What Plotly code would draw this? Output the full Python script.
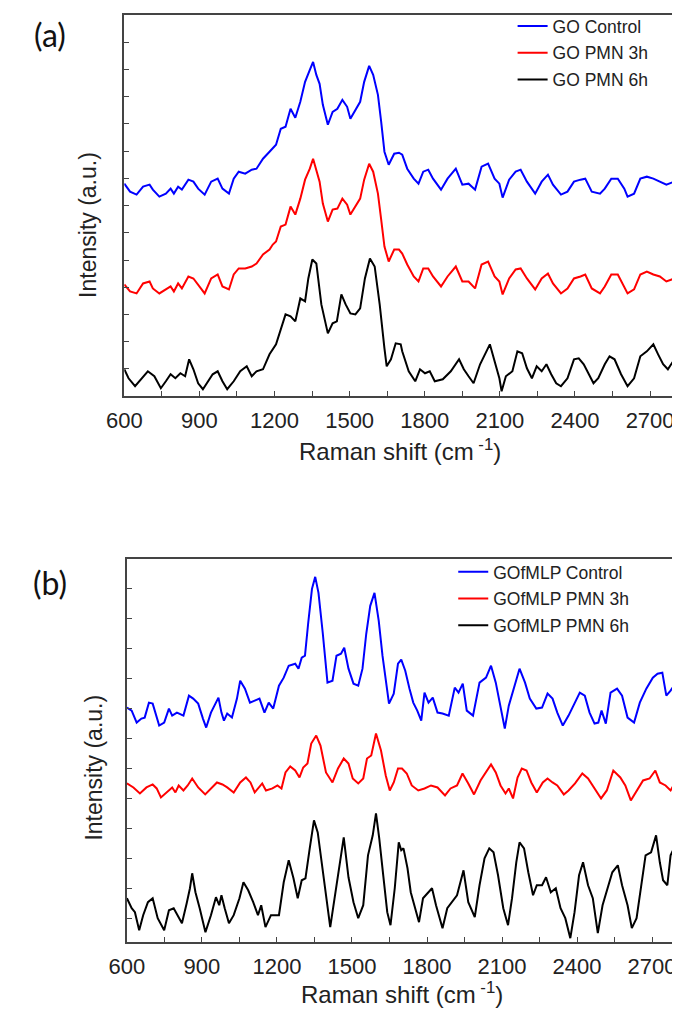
import plotly.graph_objects as go

# page is drawn with an 8px body margin, so the figure is 8px smaller on each axis
OFF = 8
W, H = 680 - OFF, 1012 - OFF

# ---------------- Panel (a) data (arbitrary intensity units) ----------------
go_control_x = [600, 623, 649, 675, 701, 714, 740, 766, 785, 798, 815, 830, 856, 876, 895, 921, 947, 973, 992,
                1018, 1037, 1057, 1083, 1109, 1128, 1154, 1180, 1193, 1206, 1225, 1244, 1264, 1283, 1303, 1322,
                1341, 1354, 1367, 1380, 1393, 1413, 1432, 1451, 1471, 1490, 1503, 1523, 1542, 1558, 1578, 1594,
                1613, 1626, 1639, 1656, 1678, 1697, 1710, 1730, 1756, 1775, 1794, 1814, 1833, 1865, 1891, 1924,
                1950, 1975, 2001, 2027, 2053, 2079, 2098, 2111, 2137, 2163, 2183, 2208, 2241, 2267, 2292, 2312,
                2344, 2370, 2396, 2422, 2441, 2467, 2500, 2519, 2545, 2571, 2597, 2610, 2636, 2661, 2687, 2713,
                2739, 2765, 2797]
go_control_y = [213, 205, 202, 210, 212, 207, 200, 203, 208, 203, 210, 207, 217, 215, 208, 202, 215, 218, 208,
                203, 218, 225, 223, 227, 228, 238, 245, 248, 252, 268, 270, 288, 279, 295, 315,
                327, 335, 322, 313, 292, 272, 285, 288, 297, 290, 278, 287, 295, 315, 331, 322,
                302, 275, 245, 232, 243, 244, 242, 228, 218, 213, 225, 227, 218, 207, 218, 228,
                212, 213, 207, 230, 233, 218, 213, 199, 217, 225, 227, 215, 203, 215, 222, 212,
                202, 205, 215, 217, 218, 205, 203, 208, 218, 218, 208, 200, 203, 218, 220, 218,
                215, 212, 215]

go_pmn3_x = [600, 623, 649, 675, 701, 714, 740, 766, 785, 798, 815, 830, 856, 876, 895, 921, 947, 973, 992,
             1018, 1037, 1057, 1083, 1109, 1128, 1154, 1180, 1193, 1206, 1225, 1244, 1264, 1283, 1303, 1322,
             1341, 1354, 1367, 1380, 1393, 1413, 1432, 1451, 1471, 1490, 1503, 1523, 1542, 1558, 1578, 1594,
             1613, 1626, 1639, 1656, 1678, 1697, 1710, 1730, 1756, 1775, 1794, 1814, 1833, 1865, 1891, 1924,
             1950, 1975, 2001, 2027, 2053, 2079, 2098, 2111, 2137, 2163, 2183, 2208, 2241, 2267, 2292, 2312,
             2344, 2370, 2396, 2422, 2441, 2467, 2500, 2519, 2545, 2571, 2597, 2610, 2636, 2661, 2687, 2713,
             2739, 2765, 2797]
go_pmn3_y = [112, 105, 103, 113, 115, 108, 103, 107, 110, 105, 113, 108, 120, 118, 112, 103, 118, 122, 110,
             107, 122, 128, 128, 130, 133, 142, 147, 152, 155, 170, 172, 190, 182, 198, 217,
             228, 238, 225, 215, 193, 175, 187, 188, 198, 192, 182, 190, 198, 217, 233, 225,
             203, 177, 150, 135, 147, 147, 143, 132, 120, 115, 128, 128, 120, 110, 120, 130,
             115, 115, 108, 132, 135, 120, 115, 102, 118, 127, 128, 118, 107, 118, 123, 113,
             103, 108, 118, 120, 122, 108, 103, 110, 122, 122, 110, 103, 107, 122, 125, 122,
             120, 115, 118]

go_pmn6_x = [600, 617, 643, 669, 694, 720, 746, 766, 785, 804, 824, 843, 859, 876, 895, 914, 934, 953, 973,
             992, 1011, 1037, 1063, 1089, 1109, 1128, 1154, 1180, 1206, 1225, 1244, 1264, 1283, 1303, 1322,
             1335, 1351, 1367, 1387, 1413, 1432, 1449, 1467, 1484, 1503, 1523, 1542, 1561, 1581, 1600, 1620,
             1639, 1648, 1665, 1684, 1704, 1710, 1736, 1762, 1781, 1801, 1820, 1840, 1872, 1904, 1937, 1956,
             1975, 1995, 2021, 2040, 2060, 2079, 2098, 2107, 2124, 2150, 2170, 2189, 2208, 2228, 2247, 2267,
             2286, 2305, 2325, 2344, 2370, 2396, 2415, 2435, 2454, 2474, 2493, 2519, 2538, 2558, 2584, 2610,
             2636, 2661, 2687, 2713, 2732, 2752, 2771, 2797]
go_pmn6_y = [27, 18, 10, 18, 25, 20, 8, 15, 22, 18, 23, 20, 37, 27, 13, 7, 15, 22, 25,
             15, 7, 15, 25, 30, 20, 25, 27, 42, 52, 68, 82, 80, 75, 98, 95,
             118, 137, 133, 92, 63, 73, 75, 102, 92, 83, 82, 88, 118, 138, 130, 92,
             48, 30, 37, 53, 52, 45, 25, 15, 27, 23, 25, 15, 17, 25, 37, 27,
             20, 13, 32, 42, 52, 35, 18, 5, 20, 25, 45, 43, 28, 18, 30, 25,
             32, 22, 13, 10, 18, 37, 38, 32, 22, 13, 18, 32, 40, 37, 22, 10,
             18, 40, 45, 52, 42, 32, 27, 37]

# ---------------- Panel (b) data (arbitrary intensity units) ----------------
gofmlp_control_x = [600, 619, 639, 658, 671, 688, 703, 716, 729, 749, 768, 781, 800, 826, 848, 865, 885, 904, 917,
                    936, 956, 966, 978, 988, 1001, 1020, 1040, 1053, 1072, 1092, 1111, 1130, 1150, 1167, 1185,
                    1208, 1227, 1247, 1273, 1286, 1299, 1312, 1325, 1340, 1353, 1366, 1383, 1402, 1422, 1438,
                    1456, 1469, 1486, 1506, 1525, 1542, 1557, 1573, 1590, 1607, 1622, 1638, 1648, 1667, 1684,
                    1697, 1713, 1730, 1745, 1761, 1777, 1790, 1806, 1823, 1842, 1862, 1887, 1911, 1926, 1943,
                    1959, 1984, 2010, 2036, 2056, 2075, 2094, 2111, 2127, 2146, 2170, 2192, 2211, 2237, 2260,
                    2282, 2302, 2321, 2343, 2366, 2390, 2411, 2431, 2450, 2470, 2485, 2498, 2515, 2534, 2560,
                    2580, 2602, 2628, 2651, 2677, 2703, 2722, 2741, 2757, 2774, 2793]
gofmlp_control_y = [235, 232, 220, 224, 225, 240, 239, 227, 217, 220, 234, 227, 230, 227, 247, 244, 239, 224, 215,
                    230, 239, 245, 230, 222, 229, 225, 244, 262, 254, 240, 242, 244, 230, 240, 234,
                    257, 265, 277, 279, 274, 285, 287, 320, 354, 366, 350, 310, 260, 262, 287,
                    289, 295, 274, 259, 257, 274, 309, 337, 350, 322, 287, 254, 239, 249, 279,
                    283, 272, 254, 240, 232, 222, 250, 240, 245, 230, 229, 227, 255, 250, 259,
                    232, 227, 260, 265, 277, 260, 237, 214, 237, 254, 274, 260, 244, 234, 235,
                    249, 244, 230, 217, 227, 240, 250, 247, 230, 219, 220, 232, 219, 250, 254,
                    247, 225, 220, 240, 254, 265, 269, 270, 247, 252, 259]

gofmlp_pmn3_x = [600, 626, 652, 678, 703, 719, 736, 755, 781, 794, 807, 826, 843, 861, 885, 913, 936, 960, 982,
                 1001, 1027, 1053, 1076, 1094, 1111, 1141, 1156, 1182, 1202, 1218, 1234, 1253, 1273, 1290, 1305,
                 1322, 1337, 1357, 1374, 1396, 1422, 1444, 1467, 1486, 1503, 1525, 1545, 1560, 1577, 1596, 1616,
                 1635, 1651, 1667, 1684, 1700, 1719, 1739, 1765, 1790, 1816, 1842, 1872, 1894, 1920, 1942, 1965,
                 1988, 2014, 2036, 2056, 2075, 2094, 2114, 2127, 2144, 2162, 2179, 2198, 2217, 2239, 2263, 2282,
                 2302, 2321, 2347, 2366, 2392, 2421, 2444, 2470, 2496, 2519, 2545, 2573, 2593, 2615, 2638, 2664,
                 2690, 2713, 2731, 2754, 2774, 2793]
gofmlp_pmn3_y = [159, 155, 149, 155, 158, 154, 145, 149, 155, 150, 157, 152, 157, 164, 155, 148, 154, 160, 158,
                 155, 150, 160, 165, 160, 150, 159, 152, 154, 157, 154, 170, 176, 172, 165, 175,
                 179, 199, 207, 197, 170, 160, 174, 184, 179, 164, 159, 164, 184, 187, 209, 192,
                 167, 152, 160, 174, 174, 169, 157, 152, 154, 157, 155, 147, 154, 157, 169, 159,
                 148, 162, 170, 178, 170, 157, 149, 154, 144, 165, 174, 172, 160, 150, 160, 164,
                 160, 157, 148, 152, 159, 169, 164, 154, 144, 152, 172, 165, 157, 142, 152, 162,
                 164, 172, 160, 157, 152, 160]

gofmlp_pmn6_x = [600, 619, 632, 649, 665, 684, 703, 723, 749, 768, 787, 804, 820, 839, 852, 861, 874, 891, 914,
                 936, 956, 969, 978, 991, 1008, 1027, 1050, 1066, 1085, 1105, 1124, 1137, 1154, 1176, 1208,
                 1227, 1247, 1266, 1283, 1299, 1314, 1331, 1348, 1363, 1379, 1396, 1413, 1428, 1444, 1467,
                 1486, 1506, 1525, 1545, 1564, 1583, 1596, 1609, 1625, 1641, 1654, 1671, 1687, 1697, 1706,
                 1722, 1735, 1752, 1768, 1784, 1803, 1820, 1836, 1862, 1881, 1900, 1920, 1946, 1965, 1991,
                 2010, 2030, 2049, 2066, 2084, 2105, 2124, 2140, 2157, 2170, 2188, 2205, 2224, 2239, 2260,
                 2276, 2295, 2315, 2334, 2353, 2373, 2390, 2408, 2424, 2444, 2463, 2483, 2502, 2521, 2541,
                 2563, 2580, 2602, 2619, 2638, 2657, 2674, 2696, 2716, 2731, 2744, 2761, 2774, 2793]
gofmlp_pmn6_y = [44, 34, 30, 12, 27, 40, 44, 24, 12, 32, 34, 27, 19, 39, 54, 69, 50, 34, 10,
                 27, 45, 37, 47, 34, 19, 27, 44, 60, 52, 40, 27, 37, 15, 27, 27,
                 60, 82, 64, 44, 62, 64, 94, 122, 110, 80, 44, 15, 40, 67, 105,
                 65, 40, 24, 37, 87, 107, 129, 104, 67, 30, 17, 54, 100, 92, 94,
                 74, 50, 34, 20, 44, 49, 54, 37, 14, 34, 40, 47, 72, 40, 25,
                 57, 84, 94, 90, 67, 34, 17, 44, 80, 100, 94, 70, 47, 57, 57,
                 65, 50, 54, 34, 24, 4, 30, 67, 80, 57, 44, 9, 37, 54, 70,
                 77, 57, 37, 14, 24, 60, 87, 90, 107, 80, 62, 57, 87, 97]

top_names = ["GO Control", "GO PMN 3h", "GO PMN 6h"]
bot_names = ["GOfMLP Control", "GOfMLP PMN 3h", "GOfMLP PMN 6h"]
colors = ["#0000FF", "#FF0000", "#000000"]

x_tickvals = [600, 900, 1200, 1500, 1800, 2100, 2400, 2700]
x_minor_tickvals = [750, 1050, 1350, 1650, 1950, 2250, 2550]
x_range = [600, 2800]

FONT = "Arial, Liberation Sans, sans-serif"


def px_x(p):
    # p is a pixel position in the 680x1012 page
    return (p - OFF) / W


def px_y(p):
    return 1 - (p - OFF) / H


fig = go.Figure()

top_series = [(go_control_x, go_control_y), (go_pmn3_x, go_pmn3_y), (go_pmn6_x, go_pmn6_y)]
bot_series = [(gofmlp_control_x, gofmlp_control_y), (gofmlp_pmn3_x, gofmlp_pmn3_y),
              (gofmlp_pmn6_x, gofmlp_pmn6_y)]

for i, ((xs, ys), name) in enumerate(zip(top_series, top_names)):
    fig.add_trace(go.Scatter(x=xs, y=ys, mode="lines", name=name,
                             line=dict(color=colors[i], width=2),
                             xaxis="x", yaxis="y", legend="legend",
                             legendgroup="a%d" % i))
for i, ((xs, ys), name) in enumerate(zip(bot_series, bot_names)):
    fig.add_trace(go.Scatter(x=xs, y=ys, mode="lines", name=name,
                             line=dict(color=colors[i], width=2),
                             xaxis="x2", yaxis="y2", legend="legend2",
                             legendgroup="b%d" % i))

axis_common = dict(showline=True, linecolor="#444", linewidth=1.5, mirror=True,
                   showgrid=False, zeroline=False, ticks="inside", tickcolor="#444")

xaxis_common = dict(axis_common, range=x_range, tickmode="array", tickvals=x_tickvals,
                    ticklen=5, tickwidth=1.2,
                    tickfont=dict(family=FONT, size=22, color="#222"),
                    ticklabelstandoff=4,
                    minor=dict(ticks="inside", ticklen=5, tickwidth=1.2, tickcolor="#444",
                               tickvals=x_minor_tickvals))

fig.update_layout(
    width=W, height=H,
    margin=dict(l=0, r=0, t=0, b=0),
    paper_bgcolor="white", plot_bgcolor="white",
    showlegend=True,
    xaxis=dict(xaxis_common, domain=[px_x(109), px_x(675)], anchor="y"),
    yaxis=dict(axis_common, domain=[px_y(395), px_y(12.7)], anchor="x",
               range=[0, 382.3], tick0=0, dtick=27.3, ticklen=5, tickwidth=1.2,
               showticklabels=False),
    xaxis2=dict(xaxis_common, domain=[px_x(111.7), px_x(677)], anchor="y2"),
    yaxis2=dict(axis_common, domain=[px_y(942), px_y(558)], anchor="x2",
                range=[0, 384], tick0=24, dtick=30, ticklen=5, tickwidth=1.2,
                showticklabels=False),
    legend=dict(x=px_x(508), y=px_y(6), xanchor="left", yanchor="top",
                bgcolor="rgba(0,0,0,0)", borderwidth=0,
                font=dict(family=FONT, size=17.5, color="#222"),
                traceorder="grouped", tracegroupgap=1, itemwidth=30),
    legend2=dict(x=px_x(447), y=px_y(553), xanchor="left", yanchor="top",
                 bgcolor="rgba(0,0,0,0)", borderwidth=0,
                 font=dict(family=FONT, size=17.5, color="#222"),
                 traceorder="grouped", tracegroupgap=1, itemwidth=30),
)

annots = [
    dict(text="Raman shift (cm<sup> -1</sup>)", x=px_x(392), y=px_y(466), size=24, ya="bottom"),
    dict(text="Raman shift (cm<sup> -1</sup>)", x=px_x(394), y=px_y(1010), size=24, ya="bottom"),
    dict(text="Intensity (a.u.)", x=px_x(71), y=px_y(223), size=23, angle=-90, ya="middle"),
    dict(text="Intensity (a.u.)", x=px_x(78), y=px_y(767), size=23, angle=-90, ya="middle"),
]
for a in annots:
    fig.add_annotation(text=a["text"], x=a["x"], y=a["y"], xref="paper", yref="paper",
                       xanchor="center", yanchor=a["ya"], showarrow=False,
                       textangle=a.get("angle", 0),
                       font=dict(family=FONT, size=a["size"], color="#222"))

for lab, yy in [("(a)", 33), ("(b)", 582)]:
    fig.add_annotation(text=lab, x=px_x(33), y=px_y(yy), xref="paper", yref="paper",
                       xanchor="center", yanchor="middle", showarrow=False,
                       font=dict(family="Lato, Open Sans, sans-serif", size=32, color="#111"))

fig.write_html("out.html")
